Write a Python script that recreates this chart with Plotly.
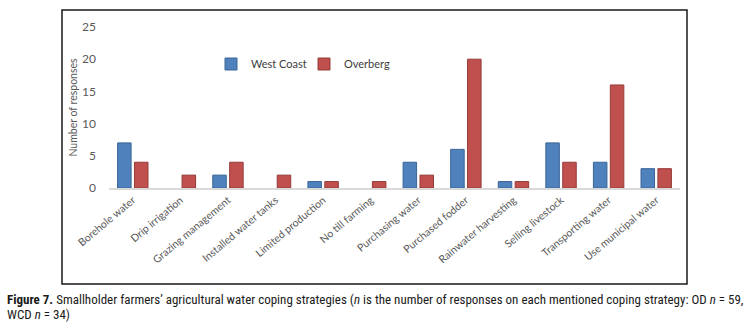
import plotly.graph_objects as go

categories = ["Borehole water", "Drip irrigation", "Grazing management", "Installed water tanks",
              "Limited production", "No till farming", "Purchasing water", "Purchased fodder",
              "Rainwater harvesting", "Selling livestock", "Transporting water", "Use municipal water"]
west_coast = [7, 0, 2, 0, 1, 0, 4, 6, 1, 7, 4, 3]
overberg = [4, 2, 4, 2, 1, 1, 2, 20, 1, 4, 16, 3]
y_ticks = [0, 5, 10, 15, 20, 25]

W, H = 751, 329
L, R, T, B = 109, 71, 27, 141
pw, ph = W - L - R, H - T - B

def px(x):
    return (x - L) / pw

def py(y):
    return (H - B - y) / ph

def line_widths(vals):
    return [0 if v == 0 else 1 for v in vals]

fig = go.Figure()
fig.add_trace(go.Bar(name="West Coast", x=categories, y=west_coast,
                     marker=dict(color="#4F81BD", line=dict(color="#3A6596", width=line_widths(west_coast)))))
fig.add_trace(go.Bar(name="Overberg", x=categories, y=overberg,
                     marker=dict(color="#C0504D", line=dict(color="#943C3A", width=line_widths(overberg)))))

cap_font = dict(family="Roboto Condensed, Liberation Sans Narrow, Roboto, sans-serif", size=13, color="#1a1a1a")

fig.update_layout(
    width=W, height=H,
    margin=dict(l=L, r=R, t=T, b=B, autoexpand=False),
    paper_bgcolor="white", plot_bgcolor="white",
    barmode="group", bargap=0.29, bargroupgap=0.2,
    font=dict(family="Lato, Open Sans, sans-serif", color="#595959", size=11),
    legend=dict(orientation="h", x=px(211), y=py(64), xanchor="left", yanchor="middle",
                font=dict(size=11, color="#404040"), bgcolor="rgba(0,0,0,0)",
                itemwidth=30, entrywidth=48, entrywidthmode="pixels", traceorder="normal"),
    showlegend=True,
    xaxis=dict(tickangle=-40, showgrid=False, showline=True, linecolor="#D9D9D9", linewidth=2,
               ticks="", automargin=False, tickfont=dict(size=10.5, color="#595959")),
    yaxis=dict(range=[0, 25], tickvals=y_ticks, showgrid=False, zeroline=False, showline=False,
               automargin=False, ticklabelstandoff=12, tickfont=dict(size=12, color="#595959"),
               title=dict(text="Number of responses", font=dict(size=10.5, color="#595959"), standoff=2)),
    shapes=[dict(type="rect", xref="paper", yref="paper",
                 x0=px(62), x1=px(687), y0=py(284), y1=py(10),
                 line=dict(color="#1a1a1a", width=1.5), fillcolor="rgba(0,0,0,0)", layer="below")],
    annotations=[
        dict(xref="paper", yref="paper", x=px(5), y=py(299), xanchor="left", yanchor="middle",
             showarrow=False, align="left",
             text="<b>Figure 7.</b> Smallholder farmers’ agricultural water coping strategies (<i>n</i> is the number of responses on each mentioned coping strategy: OD <i>n</i> = 59,",
             font=cap_font),
        dict(xref="paper", yref="paper", x=px(5), y=py(314), xanchor="left", yanchor="middle",
             showarrow=False, align="left",
             text="WCD <i>n</i> = 34)",
             font=cap_font),
    ],
)

fig.write_html("out.html", config={"displayModeBar": False},
               post_script="document.body.style.margin='0';")
